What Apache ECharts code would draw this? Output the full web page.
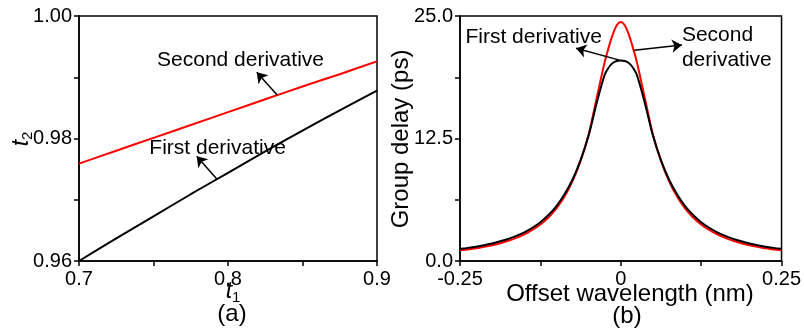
<!DOCTYPE html>
<html>
<head>
<meta charset="utf-8">
<script src="https://cdn.jsdelivr.net/npm/echarts@6/dist/echarts.min.js"></script>
<style>
  html, body { margin: 0; padding: 0; background: #fff; }
  #chart { width: 804px; height: 331px; }
</style>
</head>
<body>
<div id="chart"></div>
<script>
// ---- Panel (a): t2 against t1 ----
const t1Values = [0.7, 0.725, 0.75, 0.775, 0.8, 0.825, 0.85, 0.875, 0.9];
const t2FirstDerivative = [0.9600, 0.9637, 0.9673, 0.9709, 0.9744, 0.9779, 0.9813, 0.9846, 0.9878];
const t2SecondDerivative = [0.9759, 0.9780, 0.9801, 0.9822, 0.9843, 0.9864, 0.9885, 0.9905, 0.9926];
const t1TickValues = [0.7, 0.75, 0.8, 0.85, 0.9];
const t1TickLabels = ['0.7', '0.8', '0.9'];
const t2TickValues = [0.96, 0.97, 0.98, 0.99, 1.00];
const t2TickLabels = ['0.96', '0.98', '1.00'];

// ---- Panel (b): group delay against offset wavelength ----
const offsetNm = [
  -0.25, -0.2375, -0.225, -0.2125, -0.2, -0.1875, -0.175, -0.1625, -0.15, -0.1375,
  -0.125, -0.1125, -0.1, -0.0875, -0.075, -0.0625, -0.05, -0.0375, -0.025, -0.01875,
  -0.0125, -0.00625, 0, 0.00625, 0.0125,
  0.01875, 0.025, 0.0375, 0.05, 0.0625, 0.075, 0.0875, 0.1, 0.1125, 0.125,
  0.1375, 0.15, 0.1625, 0.175, 0.1875, 0.2, 0.2125, 0.225, 0.2375, 0.25
];
const delayFirstDerivative = [
  1.24, 1.34, 1.46, 1.61, 1.79, 2.01, 2.26, 2.56, 2.93, 3.39,
  3.96, 4.69, 5.61, 6.81, 8.32, 10.3, 12.8, 16.1, 19.0, 19.75,
  20.2, 20.4, 20.45, 20.4, 20.2,
  19.75, 19.0, 16.1, 12.8, 10.3, 8.32, 6.81, 5.61, 4.69, 3.96,
  3.39, 2.93, 2.56, 2.26, 2.01, 1.79, 1.61, 1.46, 1.34, 1.24
];
const delaySecondDerivative = [
  1.10, 1.18, 1.29, 1.44, 1.61, 1.81, 2.06, 2.36, 2.72, 3.17,
  3.73, 4.44, 5.36, 6.57, 8.15, 10.2, 12.9, 16.6, 20.3, 21.8,
  23.1, 24.05, 24.4, 24.05, 23.1,
  21.8, 20.3, 16.6, 12.9, 10.2, 8.15, 6.57, 5.36, 4.44, 3.73,
  3.17, 2.72, 2.36, 2.06, 1.81, 1.61, 1.44, 1.29, 1.18, 1.10
];
const offsetTickValues = [-0.25, -0.125, 0, 0.125, 0.25];
const offsetTickLabels = ['-0.25', '0', '0.25'];
const delayTickValues = [0, 6.25, 12.5, 18.75, 25];
const delayTickLabels = ['0.0', '12.5', '25.0'];

const FONT = "'Liberation Sans', Arial, sans-serif";
const INK = '#000';

function pairs(xs, ys) { return xs.map((x, i) => [x, ys[i]]); }

function valueAxis(gridIndex, min, max, tickValues, tickLabels, digits, margin) {
  return {
    type: 'value', gridIndex, min, max,
    axisLine: { show: true, onZero: false, lineStyle: { color: INK, width: 1.5 } },
    axisTick: { show: true, inside: false, length: 5, customValues: tickValues,
                lineStyle: { color: INK, width: 1.5 } },
    axisLabel: {
      customValues: tickLabels.map(Number),
      formatter: v => tickLabels.find(l => Math.abs(Number(l) - v) < 1e-9) || v.toFixed(digits),
      color: INK, fontSize: 20, fontFamily: FONT, margin
    },
    splitLine: { show: false }
  };
}

function annotationText(text, coord, align) {
  return {
    coord, symbol: 'rect', symbolSize: 1, itemStyle: { color: 'rgba(0,0,0,0)' },
    label: { show: true, position: 'inside', formatter: text, align: align || 'center',
             verticalAlign: 'middle', color: INK, fontSize: 21, fontFamily: FONT }
  };
}

function arrow(from, to) {
  return [{ coord: from }, { coord: to }];
}

const arrowStyle = {
  silent: true, symbol: ['none', 'arrow'], symbolSize: 10,
  lineStyle: { color: INK, width: 1.5, type: 'solid' },
  label: { show: false }, emphasis: { disabled: true }
};

const chart = echarts.init(document.getElementById('chart'), null, { renderer: 'canvas' });

chart.setOption({
  animation: false,
  backgroundColor: '#fff',
  grid: [
    { left: 79, top: 16, width: 298, height: 245, show: true, borderColor: INK, borderWidth: 1.5, backgroundColor: 'transparent' },
    { left: 460, top: 16, width: 326, height: 245, show: true, borderColor: INK, borderWidth: 1.5, backgroundColor: 'transparent' }
  ],
  xAxis: [
    valueAxis(0, 0.7, 0.9, t1TickValues, t1TickLabels, 1, 8),
    valueAxis(1, -0.25, 0.25, offsetTickValues, offsetTickLabels, 2, 8)
  ],
  yAxis: [
    valueAxis(0, 0.96, 1.00, t2TickValues, t2TickLabels, 2, 7),
    valueAxis(1, 0, 25, delayTickValues, delayTickLabels, 1, 7)
  ],
  series: [
    {
      name: 'Second derivative', type: 'line', xAxisIndex: 0, yAxisIndex: 0,
      data: pairs(t1Values, t2SecondDerivative), showSymbol: false, smooth: 0.2,
      lineStyle: { color: '#ff0000', width: 2 },
      markLine: Object.assign({ data: [arrow([0.833, 0.9871], [0.8193, 0.9908])] }, arrowStyle),
      markPoint: { silent: true, data: [annotationText('Second derivative', [0.8084, 0.9928])] }
    },
    {
      name: 'First derivative', type: 'line', xAxisIndex: 0, yAxisIndex: 0,
      data: pairs(t1Values, t2FirstDerivative), showSymbol: false, smooth: 0.2,
      lineStyle: { color: INK, width: 2 },
      markLine: Object.assign({ data: [arrow([0.7925, 0.9734], [0.779, 0.9771])] }, arrowStyle),
      markPoint: { silent: true, data: [annotationText('First derivative', [0.793, 0.9784])] }
    },
    {
      name: 'Second derivative', type: 'line', xAxisIndex: 1, yAxisIndex: 1,
      data: pairs(offsetNm, delaySecondDerivative), showSymbol: false, smooth: 0.3,
      lineStyle: { color: '#ff0000', width: 2 },
      markLine: Object.assign({ data: [arrow([0.021, 21.5], [0.0951, 22.04])] }, arrowStyle),
      markPoint: { silent: true, data: [
        annotationText('Second', [0.0951, 23.06], 'left'),
        annotationText('derivative', [0.0951, 20.51], 'left')
      ] }
    },
    {
      name: 'First derivative', type: 'line', xAxisIndex: 1, yAxisIndex: 1,
      data: pairs(offsetNm, delayFirstDerivative), showSymbol: false, smooth: 0.3,
      lineStyle: { color: INK, width: 2 },
      markLine: Object.assign({ data: [arrow([-0.002, 20.5], [-0.0695, 21.7])] }, arrowStyle),
      markPoint: { silent: true, data: [annotationText('First derivative', [-0.1354, 22.83])] }
    }
  ],
  graphic: [
    { type: 'text', x: 233, y: 292, style: {
        text: '{i|t}{s|1}', align: 'center', verticalAlign: 'middle', fill: INK,
        rich: { i: { fontSize: 23, fontStyle: 'italic', fontFamily: FONT, lineHeight: 26, verticalAlign: 'middle' },
                s: { fontSize: 15, fontFamily: FONT, lineHeight: 26, verticalAlign: 'bottom' } } } },
    { type: 'text', x: 232, y: 314, style: { text: '(a)', align: 'center', verticalAlign: 'middle',
        fill: INK, fontSize: 24, fontFamily: FONT } },
    { type: 'text', x: 22, y: 139, rotation: Math.PI / 2, style: {
        text: '{i|t}{s|2}', align: 'center', verticalAlign: 'middle', fill: INK,
        rich: { i: { fontSize: 23, fontStyle: 'italic', fontFamily: FONT, lineHeight: 26, verticalAlign: 'middle' },
                s: { fontSize: 15, fontFamily: FONT, lineHeight: 26, verticalAlign: 'bottom' } } } },
    { type: 'text', x: 630, y: 294, style: { text: 'Offset wavelength (nm)', align: 'center', verticalAlign: 'middle',
        fill: INK, fontSize: 24, fontFamily: FONT } },
    { type: 'text', x: 627, y: 316, style: { text: '(b)', align: 'center', verticalAlign: 'middle',
        fill: INK, fontSize: 24, fontFamily: FONT } },
    { type: 'text', x: 401, y: 139, rotation: Math.PI / 2, style: { text: 'Group delay (ps)', align: 'center',
        verticalAlign: 'middle', fill: INK, fontSize: 24, fontFamily: FONT } }
  ]
});
</script>
</body>
</html>
